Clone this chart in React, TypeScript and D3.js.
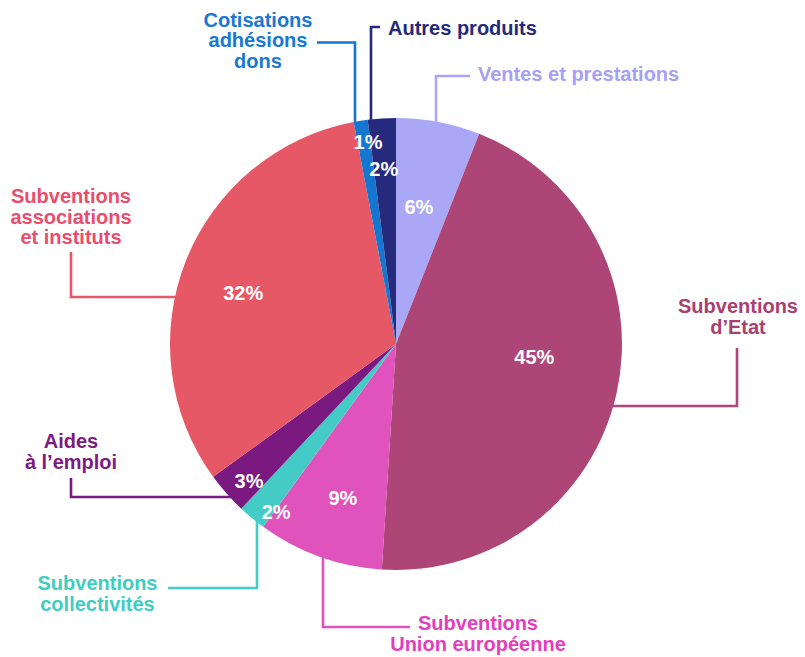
import React from "react";
import * as d3 from "d3";

// ---- data ----
const categories = [
  "Ventes et prestations",
  "Subventions d'Etat",
  "Subventions Union européenne",
  "Subventions collectivités",
  "Aides à l'emploi",
  "Subventions associations et instituts",
  "Cotisations adhésions dons",
  "Autres produits",
];
const values = [6, 45, 9, 2, 3, 32, 1, 2];
const labelLines = [
  ["Ventes et prestations"],
  ["Subventions", "d’Etat"],
  ["Subventions", "Union européenne"],
  ["Subventions", "collectivités"],
  ["Aides", "à l’emploi"],
  ["Subventions", "associations", "et instituts"],
  ["Cotisations", "adhésions", "dons"],
  ["Autres produits"],
];

// ---- styles / layout ----
const sliceColors = ["#aaa7f6", "#ad4677", "#e052bc", "#45cbc5", "#7a1a80", "#e65866", "#1576d0", "#262a7c"];
const textColors = ["#a6a0f6", "#a9406f", "#e43dbc", "#3fcdc3", "#7e1a80", "#ea4d6c", "#1778d5", "#232a7c"];
const W = 805, H = 657;
const CX = 396, CY = 344, R = 226;
// percent label polar placement: [angleDeg, radius]
const pctPos: [number, number][] = [
  [9.5, 139], [95.4, 139], [199, 163], [215.6, 206], [227, 201], [288.4, 161], [352.1, 204], [356, 176],
];
// category label layout: anchor, x, first baseline, leader definition
type Leader = { kind: "v" | "h"; pts: [number, number][] };
const labelLayout: { anchor: "start" | "middle"; x: number; y: number; leader: Leader }[] = [
  { anchor: "start", x: 478, y: 81, leader: { kind: "v", pts: [[470, 76], [436, 76]] } },
  { anchor: "middle", x: 738, y: 313, leader: { kind: "h", pts: [[737, 348], [737, 406]] } },
  { anchor: "middle", x: 478, y: 630, leader: { kind: "v", pts: [[410, 627], [323, 627]] } },
  { anchor: "middle", x: 97.5, y: 590, leader: { kind: "v", pts: [[168, 588], [257, 588]] } },
  { anchor: "middle", x: 71, y: 448, leader: { kind: "h", pts: [[71, 478], [71, 497]] } },
  { anchor: "middle", x: 71, y: 203, leader: { kind: "h", pts: [[71, 252], [71, 297]] } },
  { anchor: "middle", x: 258, y: 26.5, leader: { kind: "v", pts: [[317, 42.5], [355, 42.5]] } },
  { anchor: "start", x: 388, y: 35, leader: { kind: "v", pts: [[380, 27], [371, 27]] } },
];
const FONT = "'Liberation Sans', Arial, Helvetica, sans-serif";

export default function App() {
  const pie = d3.pie<number>().sort(null).value((d) => d);
  const arcs = pie(values);
  const arcGen = d3.arc<d3.PieArcDatum<number>>().innerRadius(0).outerRadius(R);
  const line = d3.line();

  const leaderPath = (i: number) => {
    const { kind, pts } = labelLayout[i].leader;
    const last = pts[pts.length - 1];
    let end: [number, number];
    if (kind === "v") {
      const dx = last[0] - CX;
      const dy = Math.sqrt(R * R - dx * dx);
      end = [last[0], last[1] < CY ? CY - dy + 2 : CY + dy - 2];
    } else {
      const dy = last[1] - CY;
      const dx = Math.sqrt(R * R - dy * dy);
      end = [last[0] < CX ? CX - dx + 2 : CX + dx - 2, last[1]];
    }
    return line([...pts, end]) || "";
  };

  return (
    <svg width={W} height={H} style={{ position: "absolute", left: 0, top: 0, background: "#fff" }} fontFamily={FONT}>
      {arcs.map((a, i) => (
        <path key={"l" + i} d={leaderPath(i)} fill="none" stroke={sliceColors[i]} strokeWidth={2.6} />
      ))}
      <g transform={`translate(${CX},${CY})`}>
        {arcs.map((a, i) => (
          <path key={categories[i]} d={arcGen(a) || ""} fill={sliceColors[i]} />
        ))}
        {arcs.map((a, i) => {
          const [ang, r] = pctPos[i];
          const t = (ang * Math.PI) / 180;
          return (
            <text
              key={"p" + i}
              x={r * Math.sin(t)}
              y={-r * Math.cos(t)}
              dy="0.36em"
              textAnchor="middle"
              fill="#fff"
              fontWeight="bold"
              fontSize={20}
            >
              {values[i]}%
            </text>
          );
        })}
      </g>
      {labelLines.map((lines, i) => (
        <text
          key={"t" + i}
          x={labelLayout[i].x}
          y={labelLayout[i].y}
          textAnchor={labelLayout[i].anchor}
          fill={textColors[i]}
          fontWeight="bold"
          fontSize={20}
        >
          {lines.map((ln, j) => (
            <tspan key={j} x={labelLayout[i].x} dy={j === 0 ? 0 : 20.5}>
              {ln}
            </tspan>
          ))}
        </text>
      ))}
    </svg>
  );
}
